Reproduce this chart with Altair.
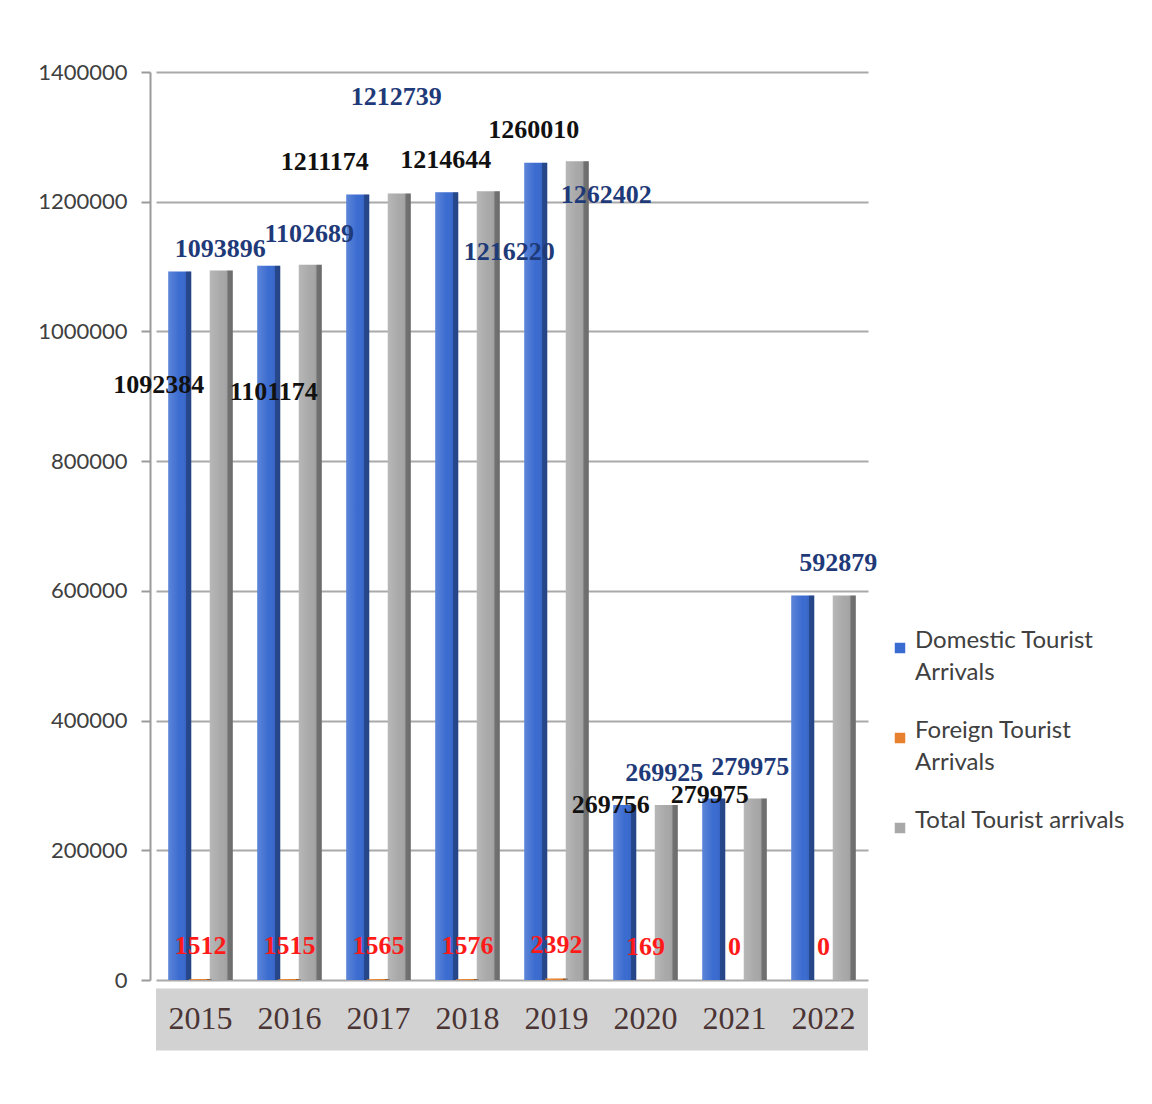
import altair as alt
import pandas as pd

years = ["2015", "2016", "2017", "2018", "2019", "2020", "2021", "2022"]
series = ["Domestic Tourist Arrivals", "Foreign Tourist Arrivals", "Total Tourist arrivals"]
domestic = [1092384, 1101174, 1211174, 1214644, 1260010, 269756, 279975, 592879]
foreign = [1512, 1515, 1565, 1576, 2392, 169, 0, 0]
total = [1093896, 1102689, 1212739, 1216220, 1262402, 269925, 279975, 592879]
y_ticks = [0, 200000, 400000, 600000, 800000, 1000000, 1200000, 1400000]

# label placement tweaks (pixels) as seen in the reference
dom_dx = [-21, 5, -33, -1, -2, -14, -4, 0]
dom_dy = [113, 126, -32, -32, -33, 0, -3, 0]
dom_show = [True, True, True, True, True, True, True, False]
tot_dx = [-1, -1, -3, 21, 29, -2, -5, -6]
tot_dy = [-22, -31, -96, 61, 34, -32, -31, -32]
for_dx = [0] * 8
for_dy = [-33] * 8

colors = ["#3a6bd0", "#e8812e", "#a8a8a8"]
label_colors = ["#111111", "#ff1a1a", "#1f3a78"]

W, H = 712, 908
YMAX = 1400000
P_IN = 0.3
step = W / (len(years) - P_IN + 2 * 0.15)
bandw = step * (1 - P_IN)
px_per_unit = H / YMAX

rows = []
for s, vals in zip(series, [domestic, foreign, total]):
    for y, v in zip(years, vals):
        rows.append({"year": y, "series": s, "value": v})
df = pd.DataFrame(rows)

lab_rows = []
for k, (s, vals, dxs, dys, shows) in enumerate(zip(
        series, [domestic, foreign, total], [dom_dx, for_dx, tot_dx],
        [dom_dy, for_dy, tot_dy], [dom_show, [True] * 8, [True] * 8])):
    for y, v, dx, dy, sh in zip(years, vals, dxs, dys, shows):
        if not sh:
            continue
        lab_rows.append({
            "year": y, "series": s, "text": str(v),
            "lx": bandw * (k + 0.5) / 3 + dx,
            "ly": v - dy / px_per_unit,
        })
labels = pd.DataFrame(lab_rows)

x_enc = alt.X("year:N", sort=years,
              scale=alt.Scale(paddingInner=P_IN, paddingOuter=0.15),
              axis=alt.Axis(title=None, labelAngle=0, domain=False, grid=False,
                            offset=8, tickSize=62, tickWidth=step, tickColor="#d2d2d2",
                            labelPadding=-47, labelFont="Liberation Serif", labelFontSize=32,
                            labelColor="#4a3434"))
y_enc = alt.Y("value:Q", scale=alt.Scale(domain=[0, YMAX], nice=False),
              axis=alt.Axis(title=None, values=y_ticks, format="d", labelFont="Lato",
                            labelFontSize=22, labelColor="#404040", tickSize=9,
                            tickColor="#9a9a9a", tickWidth=2, domainColor="#9a9a9a",
                            domainWidth=2, offset=6, labelPadding=14,
                            gridColor="#a9a9a9", gridWidth=2))
xoff = alt.XOffset("series:N", sort=series, scale=alt.Scale(domain=series))

bars = alt.Chart(df).mark_bar(width=23).encode(
    x=x_enc, y=y_enc, xOffset=xoff,
    color=alt.Color("series:N", sort=series,
                    scale=alt.Scale(domain=series, range=colors),
                    legend=alt.Legend(title=None, orient="none", legendX=732, legendY=564,
                                      symbolType="square", symbolSize=110,
                                      symbolStrokeWidth=0, labelFont="Lato",
                                      labelFontSize=24, labelColor="#404040",
                                      labelLimit=400, labelOffset=3, rowPadding=34,
                                      labelBaseline="alphabetic",
                                      labelExpr="split(replace(datum.label, ' Arrivals', '|Arrivals'), '|')")),
)

shade = alt.LinearGradient(
    gradient="linear", x1=0, x2=1, y1=0, y2=0,
    stops=[alt.GradientStop(color="rgba(255,255,255,0.18)", offset=0),
           alt.GradientStop(color="rgba(255,255,255,0)", offset=0.5),
           alt.GradientStop(color="rgba(0,0,0,0.05)", offset=0.76),
           alt.GradientStop(color="rgba(0,0,0,0.32)", offset=0.78),
           alt.GradientStop(color="rgba(0,0,0,0.36)", offset=1)])
overlay = alt.Chart(df).mark_bar(fill=shade, width=23).encode(
    x=x_enc, y=y_enc, xOffset=xoff)

text_layers = []
for s, c in zip(series, label_colors):
    text_layers.append(
        alt.Chart(labels).transform_filter(alt.datum.series == s).mark_text(
            font="Liberation Serif", fontWeight="bold", fontSize=26, color=c,
            baseline="middle", align="center").encode(
            x=alt.X("year:N", sort=years),
            xOffset=alt.XOffset("lx:Q", scale=alt.Scale(domain=[0, bandw], range=[0, bandw])),
            y=alt.Y("ly:Q"),
            text="text:N"))

chart = alt.layer(bars, overlay, *text_layers).resolve_scale(
    xOffset="independent"
).properties(
    width=W, height=H,
    autosize=alt.AutoSizeParams(type="none"),
    padding={"left": 148, "top": 64, "right": 270, "bottom": 112},
).configure(
    view=alt.ViewConfig(stroke=None),
    style={"guide-label": {"lineHeight": 32}},
)

chart.save("out.html", embed_options={"renderer": "svg", "actions": False})
